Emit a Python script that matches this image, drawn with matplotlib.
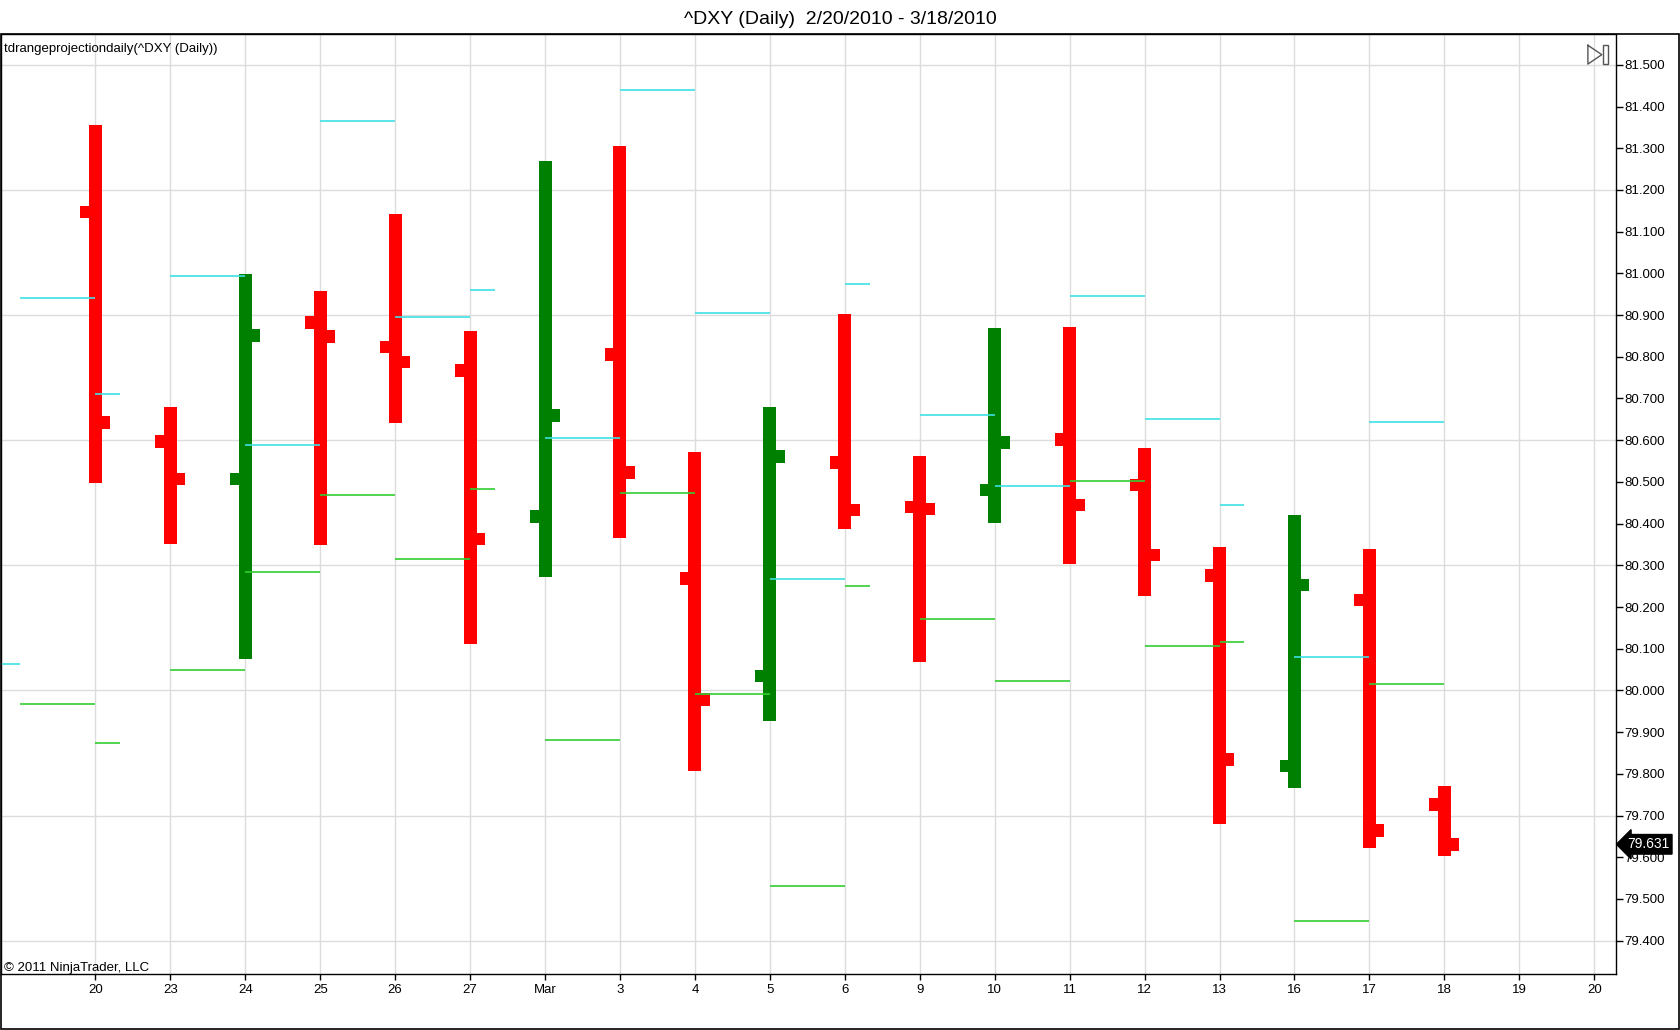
import matplotlib.pyplot as plt
from matplotlib.patches import Rectangle

plt.rcParams['font.family'] = ['Liberation Sans', 'DejaVu Sans']

# Daily ^DXY bars
day_labels = ['20', '23', '24', '25', '26', '27', 'Mar', '3', '4', '5', '6',
              '9', '10', '11', '12', '13', '16', '17', '18', '19', '20']
opens = [81.147, 80.597, 80.507, 80.882, 80.823, 80.767, 80.417, 80.805, 80.268, 80.034,
         80.546, 80.440, 80.481, 80.602, 80.492, 80.276, 79.819, 80.217, 79.726]
highs = [81.355, 80.679, 80.998, 80.957, 81.142, 80.862, 81.270, 81.306, 80.571, 80.679,
         80.903, 80.561, 80.869, 80.872, 80.582, 80.343, 80.420, 80.340, 79.770]
lows = [80.497, 80.350, 80.076, 80.348, 80.641, 80.111, 80.273, 80.366, 79.806, 79.926,
        80.386, 80.068, 80.402, 80.302, 80.227, 79.680, 79.765, 79.621, 79.603]
closes = [80.643, 80.507, 80.851, 80.849, 80.787, 80.363, 80.659, 80.522, 79.978, 80.561,
          80.433, 80.435, 80.594, 80.445, 80.325, 79.834, 80.253, 79.664, 79.631]
last_price = 79.631

# range projection: segment drawn from bar (end-1) to bar end
proj_end = [-1, 0, 2, 3, 4, 5, 7, 8, 9, 10, 12, 13, 14, 15, 17, 18]
proj_high = [80.063, 80.941, 80.993, 80.589, 81.365, 80.895, 80.605, 81.440, 80.905, 80.268,
             80.661, 80.489, 80.946, 80.651, 80.081, 80.643]
proj_low = [None, 79.968, 80.050, 80.284, 80.469, 80.314, 79.880, 80.474, 79.991, 79.531,
            80.171, 80.022, 80.502, 80.106, 79.446, 80.016]
# short stubs right of the weekend bars
stub_at = [0, 5, 10, 15]
stub_high = [80.710, 80.959, 80.975, 80.445]
stub_low = [79.875, 80.484, 80.250, 80.117]

grid_levels = [81.5, 81.2, 80.9, 80.6, 80.3, 80.0, 79.7, 79.4]

UP = '#008000'
DOWN = '#ff0000'
CYAN = '#3ee0e4'
LIME = '#32cd32'

fig = plt.figure(figsize=(16.8, 10.3), dpi=100)
ax = fig.add_axes([1 / 1680, 56 / 1030, 1615 / 1680, 940 / 1030])

ax.set_xlim(-1.259, 20.29)
ax.set_ylim(79.320, 81.574)

# grid
for i in range(len(day_labels)):
    ax.axvline(i, color='#dcdcdc', lw=1, zorder=0)
for g in grid_levels:
    ax.axhline(g, color='#dcdcdc', lw=1, zorder=0)

bw = 0.173   # bar width
tw = 0.113   # open/close tick length
th = 0.030   # tick thickness (price units)
for i in range(len(opens)):
    c = UP if closes[i] > opens[i] else DOWN
    ax.bar(i, highs[i] - lows[i], bottom=lows[i], width=bw, color=c, lw=0, zorder=2)
    ax.bar(i - bw / 2 - tw / 2, th, bottom=opens[i] - th / 2, width=tw, color=c, lw=0, zorder=2)
    ax.bar(i + bw / 2 + tw / 2, th, bottom=closes[i] - th / 2, width=tw, color=c, lw=0, zorder=2)

# projection lines
for e, hv, lv in zip(proj_end, proj_high, proj_low):
    ax.hlines(hv, e - 1, e, color=CYAN, lw=1.2, zorder=3)
    if lv is not None:
        ax.hlines(lv, e - 1, e, color=LIME, lw=1.2, zorder=3)
for s, hv, lv in zip(stub_at, stub_high, stub_low):
    ax.hlines(hv, s, s + 0.33, color=CYAN, lw=1.2, zorder=3)
    ax.hlines(lv, s, s + 0.33, color=LIME, lw=1.2, zorder=3)

# axes
ax.set_xticks(range(len(day_labels)))
ax.set_xticklabels(day_labels)
yt = [79.4 + 0.1 * k for k in range(22)]
ax.set_yticks(yt)
ax.set_yticklabels(['%.3f' % v for v in yt])
ax.yaxis.tick_right()
ax.tick_params(axis='y', direction='out', length=5, width=1, labelsize=9.5, pad=1)
ax.tick_params(axis='x', direction='out', length=4, width=1, labelsize=9.5, pad=3)
for sp in ax.spines.values():
    sp.set_color('black')
    sp.set_linewidth(1)

# last price marker
ax.text(1.0068, last_price, '%.3f' % last_price, transform=ax.get_yaxis_transform(),
        ha='left', va='center', color='white', fontsize=10, clip_on=False, zorder=5,
        bbox=dict(boxstyle='larrow,pad=0.2', fc='black', ec='black'))

# texts
fig.text(0.5, 1 - 19 / 1030, '^DXY (Daily)  2/20/2010 - 3/18/2010',
         ha='center', va='center', fontsize=14)
ax.text(0.002, 0.990, 'tdrangeprojectiondaily(^DXY (Daily))', transform=ax.transAxes,
        ha='left', va='top', fontsize=9.5)
ax.text(0.002, 0.0, '\u00a9 2011 NinjaTrader, LLC', transform=ax.transAxes,
        ha='left', va='bottom', fontsize=9.5)

# little "go to end" icon top right
ax.plot([0.9826, 0.9826, 0.9912, 0.9826], [0.988, 0.968, 0.978, 0.988],
        transform=ax.transAxes, color='#555555', lw=1, clip_on=False, zorder=5)
ax.add_patch(Rectangle((0.9920, 0.968), 0.003, 0.020, transform=ax.transAxes,
                       fill=False, ec='#555555', lw=1, zorder=5))

# outer frame below the title
fig.add_artist(Rectangle((0.0003, 0.0005), 0.9994, 1 - 34 / 1030 - 0.0005,
                         transform=fig.transFigure, fill=False, ec='black', lw=1.2))

fig.savefig('out.png', dpi=100, facecolor='white')
